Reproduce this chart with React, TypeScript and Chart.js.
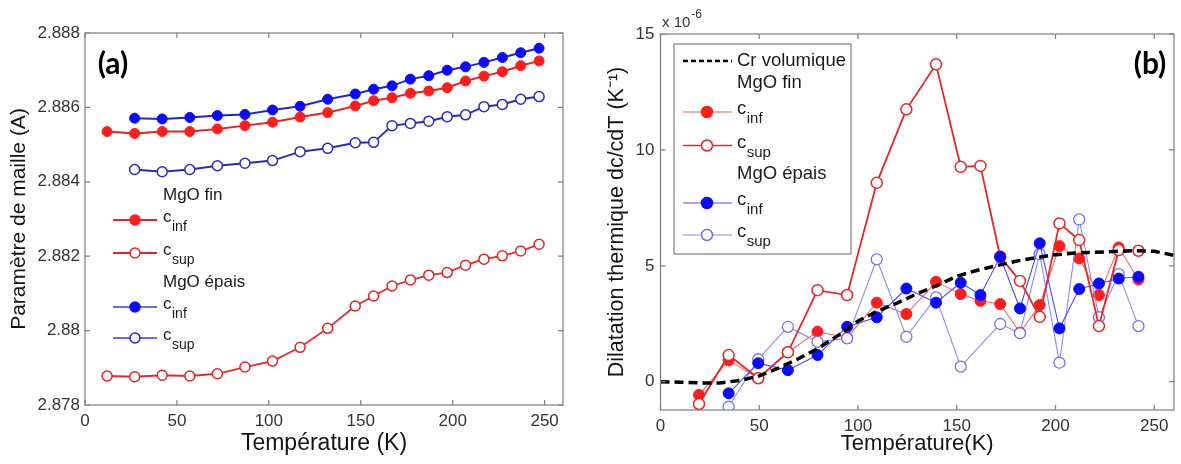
import React, { useEffect, useRef } from "react";
import { Chart, registerables } from "chart.js";
Chart.register(...registerables);

// ---------- Panel (a): lattice parameter ----------
const tempFinA = [12, 27, 42, 57, 72, 87, 102, 117, 132, 147, 157, 167, 177, 187, 197, 207, 217, 227, 237, 247];
const finInfA = [2.88535, 2.8853, 2.88535, 2.88535, 2.88542, 2.88551, 2.8856, 2.88574, 2.88586, 2.88604, 2.88618, 2.88626, 2.88638, 2.88644, 2.88653, 2.88671, 2.88684, 2.88696, 2.88712, 2.88725];
const finSupA = [2.87878, 2.87876, 2.8788, 2.87878, 2.87884, 2.87902, 2.87918, 2.87955, 2.88006, 2.88066, 2.88093, 2.8812, 2.88136, 2.88149, 2.88156, 2.88176, 2.88192, 2.88201, 2.88214, 2.88232];
const tempEpaisA = [27, 42, 57, 72, 87, 102, 117, 132, 147, 157, 167, 177, 187, 197, 207, 217, 227, 237, 247];
const epaisInfA = [2.88571, 2.88569, 2.88573, 2.88578, 2.88581, 2.88593, 2.88603, 2.88622, 2.88636, 2.88649, 2.88658, 2.88676, 2.88685, 2.887, 2.88709, 2.88721, 2.88734, 2.88747, 2.88759];
const epaisSupA = [2.88433, 2.88427, 2.88433, 2.88443, 2.8845, 2.88457, 2.88481, 2.8849, 2.88505, 2.88506, 2.88551, 2.88557, 2.88563, 2.88575, 2.8858, 2.88602, 2.88608, 2.88622, 2.88629];
const xTicksA = [0, 50, 100, 150, 200, 250];
const xTickLabelsA = ["0", "50", "100", "150", "200", "250"];
const yTicksA = [2.878, 2.88, 2.882, 2.884, 2.886, 2.888];
const yTickLabelsA = ["2.878", "2.88", "2.882", "2.884", "2.886", "2.888"];

// ---------- Panel (b): thermal expansion ----------
const tempFinB = [19.5, 34.5, 49.5, 64.5, 79.5, 94.5, 109.5, 124.5, 139.5, 152, 162, 172, 182, 192, 202, 212, 222, 232, 242];
const finInfB = [-0.57, 0.92, 0.15, 1.27, 2.16, 1.9, 3.41, 2.92, 4.31, 3.78, 3.49, 3.35, 2.12, 3.31, 5.85, 5.32, 3.74, 5.79, 4.41];
const finSupB = [-0.96, 1.15, 0.15, 1.27, 3.95, 3.74, 8.58, 11.75, 13.69, 9.27, 9.31, 5.39, 4.35, 2.8, 6.83, 6.11, 2.4, 5.68, 5.65];
const tempEpaisB = [34.5, 49.5, 64.5, 79.5, 94.5, 109.5, 124.5, 139.5, 152, 162, 172, 182, 192, 202, 212, 222, 232, 242];
const epaisInfB = [-0.5, 0.8, 0.5, 1.15, 2.37, 2.78, 4.02, 3.41, 4.27, 3.74, 5.39, 3.16, 5.97, 2.3, 4.0, 4.24, 4.45, 4.53];
const epaisSupB = [-1.08, 0.97, 2.37, 1.72, 1.87, 5.28, 1.94, 3.64, 0.65, null, 2.49, 2.09, 5.5, 0.82, 7.0, 2.78, 4.64, 2.4];
const tempCr = [0, 10, 20, 30, 40, 50, 60, 70, 80, 90, 100, 110, 120, 130, 140, 150, 160, 170, 180, 190, 200, 210, 220, 230, 240, 250, 260];
const crVolumique = [0, -0.02, -0.05, -0.05, 0.05, 0.25, 0.6, 1.0, 1.45, 2.0, 2.62, 3.05, 3.4, 3.8, 4.15, 4.55, 4.8, 5.0, 5.2, 5.35, 5.48, 5.55, 5.58, 5.62, 5.65, 5.63, 5.45];
const xTicksB = [0, 50, 100, 150, 200, 250];
const xTickLabelsB = ["0", "50", "100", "150", "200", "250"];
const yTicksB = [0, 5, 10, 15];
const yTickLabelsB = ["0", "5", "10", "15"];

const FONT = "'Liberation Sans', Arial, Helvetica, sans-serif";
const TICK_COLOR = "#333333";
const TITLE_COLOR = "#141414";
const FRAME = "#7d7d7d";

const pts = (xs: number[], ys: (number | null)[]) => xs.map((x, i) => ({ x, y: ys[i] }));

type LegendRow =
  | { kind: "header"; y: number; text: string }
  | { kind: "series"; y: number; line: string; lw: number; dash?: number[]; fill?: string; stroke?: string; r?: number; text: string; sub?: string };

interface Decor {
  legend: { lineX0: number; lineX1: number; markerX: number; textX: number; font: number; subFont: number; rows: LegendRow[]; box?: [number, number, number, number] };
  label: { text: string; x: number; y: number };
  exponent?: { x: number; y: number };
}

function makeDecor(d: Decor) {
  return {
    id: "decor",
    afterDatasetsDraw(chart: any) {
      const ctx: CanvasRenderingContext2D = chart.ctx;
      const { left, right, top, bottom } = chart.chartArea;
      const xs = chart.scales.x;
      const ys = chart.scales.y;
      ctx.save();
      // frame
      ctx.strokeStyle = FRAME;
      ctx.lineWidth = 1.2;
      ctx.strokeRect(left, top, right - left, bottom - top);
      const tl = 5;
      ctx.beginPath();
      xs.ticks.forEach((t: any) => {
        const p = xs.getPixelForValue(t.value);
        ctx.moveTo(p, bottom); ctx.lineTo(p, bottom - tl);
        ctx.moveTo(p, top); ctx.lineTo(p, top + tl);
      });
      ys.ticks.forEach((t: any) => {
        const p = ys.getPixelForValue(t.value);
        ctx.moveTo(left, p); ctx.lineTo(left + tl, p);
        ctx.moveTo(right, p); ctx.lineTo(right - tl, p);
      });
      ctx.stroke();

      // legend
      const L = d.legend;
      if (L.box) {
        const [bx, by, bw, bh] = L.box;
        ctx.fillStyle = "#ffffff";
        ctx.fillRect(bx, by, bw, bh);
        ctx.strokeStyle = FRAME;
        ctx.lineWidth = 1.2;
        ctx.strokeRect(bx, by, bw, bh);
      }
      ctx.fillStyle = "#1a1a1a";
      L.rows.forEach((row) => {
        if (row.kind === "header") {
          ctx.font = `${L.font}px ${FONT}`;
          ctx.textAlign = "left";
          ctx.textBaseline = "middle";
          ctx.fillStyle = "#1a1a1a";
          ctx.fillText(row.text, L.textX, row.y);
          return;
        }
        ctx.save();
        ctx.strokeStyle = row.line;
        ctx.lineWidth = row.lw;
        ctx.setLineDash(row.dash || []);
        ctx.beginPath();
        ctx.moveTo(L.lineX0, row.y);
        ctx.lineTo(L.lineX1, row.y);
        ctx.stroke();
        ctx.setLineDash([]);
        if (row.r) {
          ctx.beginPath();
          ctx.arc(L.markerX, row.y, row.r, 0, Math.PI * 2);
          ctx.fillStyle = row.fill || "#fff";
          ctx.fill();
          ctx.lineWidth = 1.5;
          ctx.strokeStyle = row.stroke || row.line;
          ctx.stroke();
        }
        ctx.restore();
        ctx.fillStyle = "#1a1a1a";
        ctx.textAlign = "left";
        if (row.sub) {
          ctx.textBaseline = "alphabetic";
          ctx.font = `${L.font}px ${FONT}`;
          ctx.fillText(row.text, L.textX, row.y + 2);
          const w = ctx.measureText(row.text).width;
          ctx.font = `${L.subFont}px ${FONT}`;
          ctx.fillText(row.sub, L.textX + w + 0.5, row.y + 11);
        } else {
          ctx.textBaseline = "middle";
          ctx.font = `${L.font}px ${FONT}`;
          ctx.fillText(row.text, L.textX, row.y);
        }
      });

      // panel label
      ctx.font = `bold 30px Lato, 'Open Sans', sans-serif`;
      ctx.fillStyle = "#000";
      ctx.textAlign = "center";
      ctx.textBaseline = "middle";
      ctx.fillText(d.label.text, d.label.x, d.label.y);

      // exponent
      if (d.exponent) {
        ctx.fillStyle = TICK_COLOR;
        ctx.textAlign = "left";
        ctx.textBaseline = "alphabetic";
        ctx.font = `15px ${FONT}`;
        ctx.fillText("x 10", d.exponent.x, d.exponent.y);
        const w = ctx.measureText("x 10").width;
        ctx.font = `12px ${FONT}`;
        ctx.fillText("-6", d.exponent.x + w + 1, d.exponent.y - 9);
      }
      ctx.restore();
    },
  };
}

function axisCommon(ticks: number[], labels: string[], pad: number, size: number) {
  return {
    grid: { display: false, drawTicks: false },
    border: { display: false },
    afterBuildTicks: (s: any) => { s.ticks = ticks.map((v) => ({ value: v })); },
    ticks: {
      padding: pad,
      color: TICK_COLOR,
      font: { family: FONT, size: 17 },
      maxRotation: 0,
      autoSkip: false,
      callback: (_v: any, i: number) => labels[i],
    },
    afterFit: (s: any) => { if (s.isHorizontal()) s.height = size; else s.width = size; },
  };
}

const RED = "#ff1c1c";
const BLUE = "#0a0aff";

function configA(): any {
  return {
    type: "line",
    data: {
      datasets: [
        { data: pts(tempEpaisA, epaisInfA), borderColor: "#2323d8", borderWidth: 2, pointRadius: 5, pointBackgroundColor: BLUE, pointBorderColor: BLUE, pointBorderWidth: 1 },
        { data: pts(tempFinA, finInfA), borderColor: "#e42424", borderWidth: 2, pointRadius: 5, pointBackgroundColor: RED, pointBorderColor: RED, pointBorderWidth: 1 },
        { data: pts(tempEpaisA, epaisSupA), borderColor: "#2a2ab8", borderWidth: 2, pointRadius: 5, pointBackgroundColor: "#fff", pointBorderColor: "#2a2ac4", pointBorderWidth: 1.5 },
        { data: pts(tempFinA, finSupA), borderColor: "#e42a2a", borderWidth: 1.8, pointRadius: 5, pointBackgroundColor: "#fff", pointBorderColor: "#e42424", pointBorderWidth: 1.5 },
      ],
    },
    options: {
      animation: false,
      responsive: false,
      events: [],
      layout: { padding: { left: 0, top: 33, right: 27, bottom: 0 } },
      plugins: { legend: { display: false }, tooltip: { enabled: false } },
      scales: {
        x: {
          type: "linear", min: 0, max: 260,
          ...axisCommon(xTicksA, xTickLabelsA, 6, 59),
          title: { display: true, text: "Température (K)", color: TITLE_COLOR, font: { family: FONT, size: 23 }, padding: { top: 0, bottom: 7 } },
        },
        y: {
          type: "linear", min: 2.878, max: 2.888,
          ...axisCommon(yTicksA, yTickLabelsA, 5, 85),
          title: { display: true, text: "Paramètre de maille (A)", color: TITLE_COLOR, font: { family: FONT, size: 21 }, padding: { top: 7, bottom: 0 } },
        },
      },
    },
    plugins: [
      makeDecor({
        legend: {
          lineX0: 113, lineX1: 157, markerX: 135, textX: 163, font: 17, subFont: 14,
          rows: [
            { kind: "header", y: 195, text: "MgO fin" },
            { kind: "series", y: 220, line: "#e42424", lw: 2, fill: RED, stroke: RED, r: 5, text: "c", sub: "inf" },
            { kind: "series", y: 253, line: "#e42424", lw: 2, fill: "#fff", stroke: "#e42424", r: 5, text: "c", sub: "sup" },
            { kind: "header", y: 282, text: "MgO épais" },
            { kind: "series", y: 307, line: "#3a3ae0", lw: 1.5, fill: BLUE, stroke: BLUE, r: 5, text: "c", sub: "inf" },
            { kind: "series", y: 338, line: "#3a3ac8", lw: 1.5, fill: "#fff", stroke: "#2a2ac4", r: 5, text: "c", sub: "sup" },
          ],
        },
        label: { text: "(a)", x: 113, y: 64 },
      }),
    ],
  };
}

function configB(): any {
  return {
    type: "line",
    data: {
      datasets: [
        { data: pts(tempCr, crVolumique), borderColor: "#000", borderWidth: 3.5, borderDash: [9, 5], pointRadius: 0 },
        { data: pts(tempEpaisB, epaisInfB), borderColor: "#4a4af2", borderWidth: 1.1, pointRadius: 5.5, pointBackgroundColor: BLUE, pointBorderColor: BLUE, pointBorderWidth: 1 },
        { data: pts(tempFinB, finSupB), borderColor: "#e52626", borderWidth: 1.8, pointRadius: 5.5, pointBackgroundColor: "#fff", pointBorderColor: "#e52626", pointBorderWidth: 1.5 },
        { data: pts(tempEpaisB, epaisSupB), borderColor: "#8a8af2", borderWidth: 1.1, spanGaps: true, pointRadius: 5.5, pointBackgroundColor: "#fff", pointBorderColor: "#7272f0", pointBorderWidth: 1.3 },
        { data: pts(tempFinB, finInfB), borderColor: "#ef6a6a", borderWidth: 1.1, pointRadius: 5.5, pointBackgroundColor: RED, pointBorderColor: RED, pointBorderWidth: 1 },
      ],
    },
    options: {
      animation: false,
      responsive: false,
      events: [],
      layout: { padding: { left: 0, top: 34, right: 2, bottom: 0 } },
      plugins: { legend: { display: false }, tooltip: { enabled: false } },
      scales: {
        x: {
          type: "linear", min: 0, max: 260,
          ...axisCommon(xTicksB, xTickLabelsB, 6, 54),
          title: { display: true, text: "Température(K)", color: TITLE_COLOR, font: { family: FONT, size: 22 }, padding: { top: 0, bottom: 7 } },
        },
        y: {
          type: "linear", min: -1.22, max: 15,
          ...axisCommon(yTicksB, yTickLabelsB, 6, 70.5),
          title: { display: true, text: "Dilatation thermique dc/cdT (K⁻¹)", color: TITLE_COLOR, font: { family: FONT, size: 21.5 }, padding: { top: 14, bottom: 0 } },
        },
      },
    },
    plugins: [
      makeDecor({
        legend: {
          lineX0: 93, lineX1: 142, markerX: 117, textX: 147, font: 18.5, subFont: 15,
          box: [84, 44, 177, 210],
          rows: [
            { kind: "series", y: 61, line: "#000", lw: 2.5, dash: [5, 3], text: "Cr volumique" },
            { kind: "header", y: 83, text: "MgO fin" },
            { kind: "series", y: 112, line: "#ef5a5a", lw: 1.1, fill: RED, stroke: RED, r: 5.5, text: "c", sub: "inf" },
            { kind: "series", y: 145.5, line: "#e52626", lw: 1.4, fill: "#fff", stroke: "#e52626", r: 5.5, text: "c", sub: "sup" },
            { kind: "header", y: 173.5, text: "MgO épais" },
            { kind: "series", y: 203, line: "#4a4af2", lw: 1.1, fill: BLUE, stroke: BLUE, r: 5.5, text: "c", sub: "inf" },
            { kind: "series", y: 235, line: "#8a8af2", lw: 1.1, fill: "#fff", stroke: "#7272f0", r: 5.5, text: "c", sub: "sup" },
          ],
        },
        label: { text: "(b)", x: 560, y: 64.5 },
        exponent: { x: 72, y: 27 },
      }),
    ],
  };
}

function Panel({ make, left, width }: { make: () => any; left: number; width: number }) {
  const ref = useRef<HTMLCanvasElement>(null);
  useEffect(() => {
    const chart = new Chart(ref.current as HTMLCanvasElement, make());
    return () => chart.destroy();
  }, []);
  return (
    <canvas
      ref={ref}
      width={width}
      height={464}
      style={{ position: "absolute", left, top: 0, width, height: 464, display: "block" }}
    />
  );
}

export default function App() {
  return (
    <div style={{ position: "fixed", left: 0, top: 0, width: 1181, height: 464, background: "#fff", overflow: "hidden" }}>
      <Panel make={configA} left={0} width={590} />
      <Panel make={configB} left={590} width={591} />
    </div>
  );
}
